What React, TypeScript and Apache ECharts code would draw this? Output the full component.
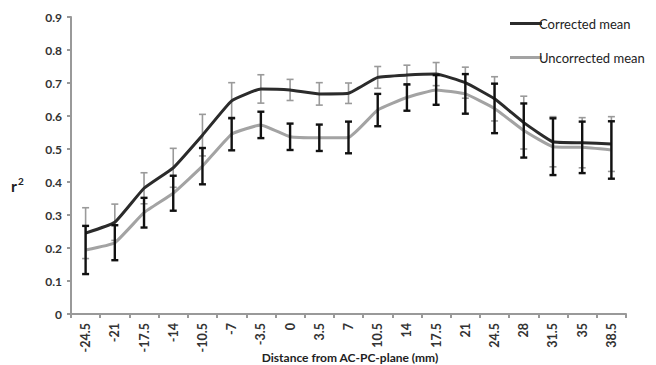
import React, { useEffect, useRef } from "react";
import * as echarts from "echarts";

const categories = ["-24.5", "-21", "-17.5", "-14", "-10.5", "-7", "-3.5", "0", "3.5", "7", "10.5", "14", "17.5", "21", "24.5", "28", "31.5", "35", "38.5"];
const correctedMean = [0.245, 0.278, 0.381, 0.443, 0.542, 0.646, 0.682, 0.679, 0.667, 0.669, 0.717, 0.724, 0.727, 0.701, 0.652, 0.58, 0.522, 0.519, 0.515];
const correctedErr = [0.077, 0.055, 0.047, 0.059, 0.063, 0.055, 0.043, 0.032, 0.034, 0.031, 0.033, 0.03, 0.035, 0.047, 0.067, 0.08, 0.076, 0.076, 0.083];
const uncorrectedMean = [0.194, 0.216, 0.307, 0.366, 0.448, 0.545, 0.573, 0.537, 0.534, 0.535, 0.618, 0.656, 0.679, 0.667, 0.623, 0.556, 0.507, 0.505, 0.497];
const uncorrectedErr = [0.073, 0.053, 0.045, 0.053, 0.055, 0.049, 0.04, 0.04, 0.04, 0.048, 0.049, 0.04, 0.045, 0.06, 0.075, 0.082, 0.086, 0.078, 0.087];
const xAxisTitle = "Distance from AC-PC-plane (mm)";

const FONT = "Lato";

function errorSeries(mean: number[], err: number[], color: string, width: number, capHalf: number) {
  return {
    type: "custom",
    silent: true,
    z: width > 2 ? 5 : 1,
    renderItem: (params: any, api: any) => {
      const i = api.value(0);
      const lo = api.coord([i, api.value(1)]);
      const hi = api.coord([i, api.value(2)]);
      const style = { stroke: color, lineWidth: width };
      return {
        type: "group",
        children: [
          { type: "line", shape: { x1: lo[0], y1: lo[1], x2: hi[0], y2: hi[1] }, style },
          { type: "line", shape: { x1: lo[0] - capHalf, y1: lo[1], x2: lo[0] + capHalf, y2: lo[1] }, style },
          { type: "line", shape: { x1: hi[0] - capHalf, y1: hi[1], x2: hi[0] + capHalf, y2: hi[1] }, style },
        ],
      };
    },
    encode: { x: 0, y: [1, 2] },
    data: mean.map((m, i) => [i, m - err[i], m + err[i]]),
  };
}

export default function App() {
  const ref = useRef<HTMLDivElement>(null);
  useEffect(() => {
    const chart = echarts.init(ref.current!, null, { renderer: "svg" });
    chart.setOption({
      animation: false,
      textStyle: { fontFamily: FONT },
      grid: { left: 71, right: 30, top: 17, bottom: 51, outerBoundsMode: "none", containLabel: false },
      legend: {
        orient: "vertical",
        left: 505,
        top: 12,
        itemGap: 21,
        itemWidth: 32,
        itemHeight: 3,
        icon: "rect",
        textStyle: { fontFamily: FONT, fontSize: 13, color: "#222", padding: [0, 0, 0, -8] },
        data: ["Corrected mean", "Uncorrected mean"],
      },
      xAxis: {
        type: "category",
        data: categories,
        boundaryGap: true,
        axisLine: { lineStyle: { color: "#999", width: 2 } },
        axisTick: { show: true, length: 4, lineStyle: { color: "#999", width: 2 } },
        axisLabel: { rotate: 90, fontSize: 12.5, fontWeight: "bold", color: "#333", margin: 9, interval: 0, fontFamily: FONT },
      },
      yAxis: {
        type: "value",
        min: 0,
        max: 0.9,
        interval: 0.1,
        splitLine: { show: false },
        axisLine: { show: true, lineStyle: { color: "#999", width: 2 } },
        axisTick: { show: true, length: 4, lineStyle: { color: "#999", width: 2 } },
        axisLabel: { fontSize: 12, fontWeight: "bold", color: "#333", margin: 9, fontFamily: FONT },
      },
      graphic: [
        {
          type: "text",
          left: 11,
          top: 176,
          style: {
            text: "{b|r}{s|2}",
            rich: {
              b: { fontSize: 16, fontWeight: "bold", fill: "#222", fontFamily: FONT },
              s: { fontSize: 10, fontWeight: "bold", fill: "#222", fontFamily: FONT, verticalAlign: "top", padding: [0, 0, 8, 1] },
            },
          },
        },
        {
          type: "text",
          x: 350,
          y: 357,
          style: {
            text: xAxisTitle,
            align: "center",
            verticalAlign: "middle",
            fontSize: 12,
            fontWeight: "bold",
            fill: "#222",
            fontFamily: FONT,
          },
        },
      ],
      series: [
        errorSeries(correctedMean, correctedErr, "#9a9a9a", 1.6, 3.5),
        {
          name: "Corrected mean",
          type: "line",
          data: correctedMean,
          smooth: 0.12,
          symbol: "none",
          z: 3,
          lineStyle: { color: "#2b2b2b", width: 3 },
          itemStyle: { color: "#2b2b2b" },
        },
        {
          name: "Uncorrected mean",
          type: "line",
          data: uncorrectedMean,
          smooth: 0.12,
          symbol: "none",
          z: 3,
          lineStyle: { color: "#a3a3a3", width: 3 },
          itemStyle: { color: "#a3a3a3" },
        },
        errorSeries(uncorrectedMean, uncorrectedErr, "#111111", 2.4, 3.5),
      ],
    });
    return () => chart.dispose();
  }, []);
  return <div ref={ref} style={{ width: 656, height: 365, position: "absolute", left: 0, top: 0 }} />;
}
